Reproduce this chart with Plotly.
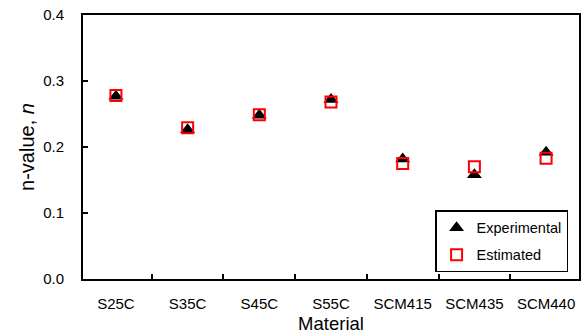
import plotly.graph_objects as go

materials = ["S25C", "S35C", "S45C", "S55C", "SCM415", "SCM435", "SCM440"]
n_experimental = [0.277, 0.226, 0.248, 0.272, 0.182, 0.158, 0.192]
n_estimated = [0.278, 0.229, 0.249, 0.268, 0.175, 0.170, 0.183]

font_family = "Liberation Sans, Arial, sans-serif"

fig = go.Figure()
fig.add_trace(go.Scatter(
    x=materials, y=n_experimental, mode="markers", name="Experimental",
    legendgroup="exp",
    marker=dict(symbol="triangle-up", size=13, color="black",
                line=dict(width=0)),
))
fig.add_trace(go.Scatter(
    x=materials, y=n_estimated, mode="markers", name="Estimated",
    legendgroup="est",
    marker=dict(symbol="square-open", size=11, color="#ff0000",
                line=dict(width=2, color="#ff0000")),
))

fig.update_layout(
    width=584, height=334,
    margin=dict(l=83, r=5, t=15, b=55),
    paper_bgcolor="white", plot_bgcolor="white",
    font=dict(family=font_family, size=15, color="black"),
    showlegend=True,
    legend=dict(
        x=0.978, y=0.025, xanchor="right", yanchor="bottom",
        bgcolor="white", bordercolor="black", borderwidth=1.5,
        font=dict(size=14.5), itemwidth=30, traceorder="grouped",
        tracegroupgap=5,
    ),
)
fig.update_xaxes(
    type="category", tickson="boundaries", ticks="inside", ticklen=5,
    tickwidth=1.5, tickcolor="black", showline=True, linecolor="black",
    linewidth=2, mirror=True, showgrid=False, zeroline=False,
    tickfont=dict(size=15), ticklabelstandoff=10, automargin=False,
    title=dict(text="Material", font=dict(size=18.5), standoff=6),
)
fig.update_yaxes(
    range=[0, 0.4], tickvals=[0, 0.1, 0.2, 0.3, 0.4],
    ticktext=["0.0", "0.1", "0.2", "0.3", "0.4"],
    ticks="inside", ticklen=5, tickwidth=1.5, tickcolor="black",
    showline=True, linecolor="black", linewidth=2, mirror=True,
    showgrid=False, zeroline=False, tickfont=dict(size=15),
    ticklabelstandoff=14, automargin=False,
    title=dict(text="n-value, <i>n</i>", font=dict(size=20), standoff=3),
)

fig.write_html("out.html")
